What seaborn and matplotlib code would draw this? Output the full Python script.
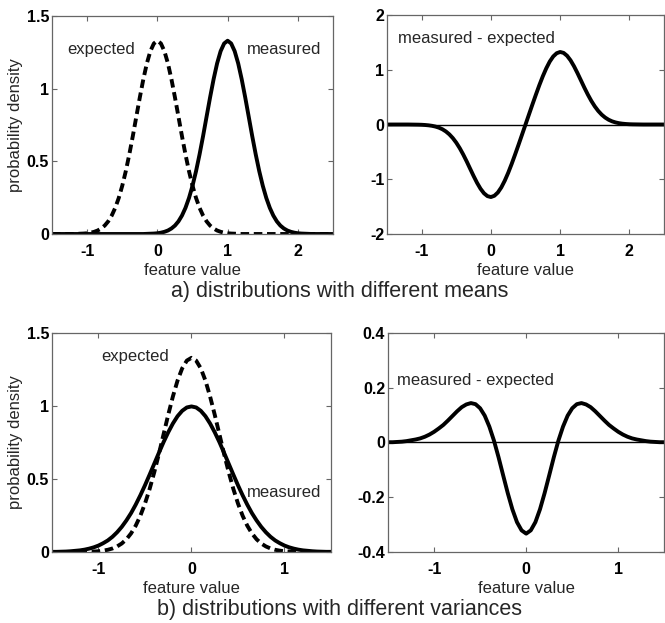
import numpy as np
import pandas as pd
import matplotlib
matplotlib.use("Agg")
import matplotlib.pyplot as plt
import seaborn as sns

# ---- data ----
# a) different means: sample grid -1.5 .. 2.5, step 0.05
x_means = np.round(np.linspace(-1.5, 2.5, 81), 2)
expected_means = [0.0] * 6 + [
    0.000, 0.001, 0.002, 0.003, 0.005, 0.009, 0.015, 0.024, 0.038, 0.058,
    0.087, 0.127, 0.180, 0.248, 0.332, 0.432, 0.547, 0.673, 0.807, 0.940,
    1.065, 1.174, 1.258, 1.311, 1.330, 1.311, 1.258, 1.174, 1.065, 0.940,
    0.807, 0.673, 0.547, 0.432, 0.332, 0.248, 0.180, 0.127, 0.087, 0.058,
    0.038, 0.024, 0.015, 0.009, 0.005, 0.003, 0.002, 0.001, 0.000] + [0.0] * 26
measured_means = [0.0] * 26 + [
    0.000, 0.001, 0.002, 0.003, 0.005, 0.009, 0.015, 0.024, 0.038, 0.058,
    0.087, 0.127, 0.180, 0.248, 0.332, 0.432, 0.547, 0.673, 0.807, 0.940,
    1.065, 1.174, 1.258, 1.311, 1.330, 1.311, 1.258, 1.174, 1.065, 0.940,
    0.807, 0.673, 0.547, 0.432, 0.332, 0.248, 0.180, 0.127, 0.087, 0.058,
    0.038, 0.024, 0.015, 0.009, 0.005, 0.003, 0.002, 0.001, 0.000] + [0.0] * 6

# b) different variances: sample grid -1.5 .. 1.5, step 0.05
x_vars = np.round(np.linspace(-1.5, 1.5, 61), 2)
expected_vars = [0.0] * 6 + [
    0.000, 0.001, 0.002, 0.003, 0.005, 0.009, 0.015, 0.024, 0.038, 0.058,
    0.087, 0.127, 0.180, 0.248, 0.332, 0.432, 0.547, 0.673, 0.807, 0.940,
    1.065, 1.174, 1.258, 1.311, 1.330, 1.311, 1.258, 1.174, 1.065, 0.940,
    0.807, 0.673, 0.547, 0.432, 0.332, 0.248, 0.180, 0.127, 0.087, 0.058,
    0.038, 0.024, 0.015, 0.009, 0.005, 0.003, 0.002, 0.001, 0.000] + [0.0] * 6
measured_vars = [
    0.001, 0.001, 0.002, 0.003, 0.005, 0.008, 0.011, 0.016, 0.023, 0.032,
    0.044, 0.060, 0.079, 0.104, 0.135, 0.172, 0.216, 0.266, 0.324, 0.388,
    0.457, 0.530, 0.605, 0.680, 0.753, 0.820, 0.880, 0.930, 0.967, 0.990,
    0.997,
    0.990, 0.967, 0.930, 0.880, 0.820, 0.753, 0.680, 0.605, 0.530, 0.457,
    0.388, 0.324, 0.266, 0.216, 0.172, 0.135, 0.104, 0.079, 0.060, 0.044,
    0.032, 0.023, 0.016, 0.011, 0.008, 0.005, 0.003, 0.002, 0.001, 0.001]

# differences shown in the right-hand panels
diff_means = np.array(measured_means) - np.array(expected_means)
diff_vars = np.array(measured_vars) - np.array(expected_vars)

# ---- style ----
sns.set_style("ticks")
plt.rcParams["font.family"] = ["Liberation Sans", "DejaVu Sans"]
plt.rcParams.update({
    "axes.unicode_minus": False,
    "axes.edgecolor": "0.4",
    "axes.linewidth": 0.9,
    "xtick.direction": "in",
    "ytick.direction": "in",
    "xtick.top": True,
    "ytick.right": True,
    "xtick.color": "0.4",
    "ytick.color": "0.4",
    "xtick.labelcolor": "black",
    "ytick.labelcolor": "black",
    "xtick.major.size": 3.5,
    "ytick.major.size": 3.5,
    "xtick.major.pad": 7,
    "ytick.major.pad": 2,
})

fig = plt.figure(figsize=(6.65, 6.23), dpi=100)
ax_tl = fig.add_axes([0.0782, 0.6244, 0.4226, 0.3499])
ax_tr = fig.add_axes([0.582, 0.6244, 0.4165, 0.3515])
ax_bl = fig.add_axes([0.0782, 0.114, 0.4195, 0.3515])
ax_br = fig.add_axes([0.5835, 0.114, 0.4155, 0.3515])

lw = 2.8
dash = (0, (2.2, 1.2))
fs = 12

# top left
sns.lineplot(x=x_means, y=expected_means, ax=ax_tl, color="black", lw=lw, linestyle=dash)
sns.lineplot(x=x_means, y=measured_means, ax=ax_tl, color="black", lw=lw)
ax_tl.text(-1.29, 1.27, "expected", fontsize=fs, va="center")
ax_tl.text(1.28, 1.27, "measured", fontsize=fs, va="center")

# top right
ax_tr.axhline(0, color="black", lw=1)
sns.lineplot(x=x_means, y=diff_means, ax=ax_tr, color="black", lw=lw)
ax_tr.text(-1.34, 1.58, "measured - expected", fontsize=fs, va="center")

# bottom left
sns.lineplot(x=x_vars, y=expected_vars, ax=ax_bl, color="black", lw=lw, linestyle=dash)
sns.lineplot(x=x_vars, y=measured_vars, ax=ax_bl, color="black", lw=lw)
ax_bl.text(-0.97, 1.34, "expected", fontsize=fs, va="center")
ax_bl.text(0.60, 0.41, "measured", fontsize=fs, va="center")

# bottom right
ax_br.axhline(0, color="black", lw=1)
sns.lineplot(x=x_vars, y=diff_vars, ax=ax_br, color="black", lw=lw)
ax_br.text(-1.40, 0.225, "measured - expected", fontsize=fs, va="center")

ax_tl.set(xlim=(-1.5, 2.5), ylim=(0, 1.5), xticks=[-1, 0, 1, 2], yticks=[0, 0.5, 1, 1.5])
ax_tl.set_yticklabels(["0", "0.5", "1", "1.5"])
ax_tr.set(xlim=(-1.5, 2.5), ylim=(-2, 2), xticks=[-1, 0, 1, 2], yticks=[-2, -1, 0, 1, 2])
ax_bl.set(xlim=(-1.5, 1.5), ylim=(0, 1.5), xticks=[-1, 0, 1], yticks=[0, 0.5, 1, 1.5])
ax_bl.set_yticklabels(["0", "0.5", "1", "1.5"])
ax_br.set(xlim=(-1.5, 1.5), ylim=(-0.4, 0.4), xticks=[-1, 0, 1], yticks=[-0.4, -0.2, 0, 0.2, 0.4])
ax_br.set_yticklabels(["-0.4", "-0.2", "0", "0.2", "0.4"])

for ax in (ax_tl, ax_tr, ax_bl, ax_br):
    ax.set_xlabel("feature value", fontsize=fs, labelpad=3)
    ax.set_ylabel("")
    for lab in ax.get_xticklabels() + ax.get_yticklabels():
        lab.set_fontsize(11.5)
        lab.set_fontweight("bold")
    for s in ax.spines.values():
        s.set_visible(True)

ax_tl.set_ylabel("probability density", fontsize=fs, labelpad=3)
ax_bl.set_ylabel("probability density", fontsize=fs, labelpad=3)

fig.text(0.511, 0.532, "a) distributions with different means", fontsize=15.5, ha="center", va="center")
fig.text(0.511, 0.022, "b) distributions with different variances", fontsize=15.5, ha="center", va="center")

fig.savefig("out.png", dpi=100)
